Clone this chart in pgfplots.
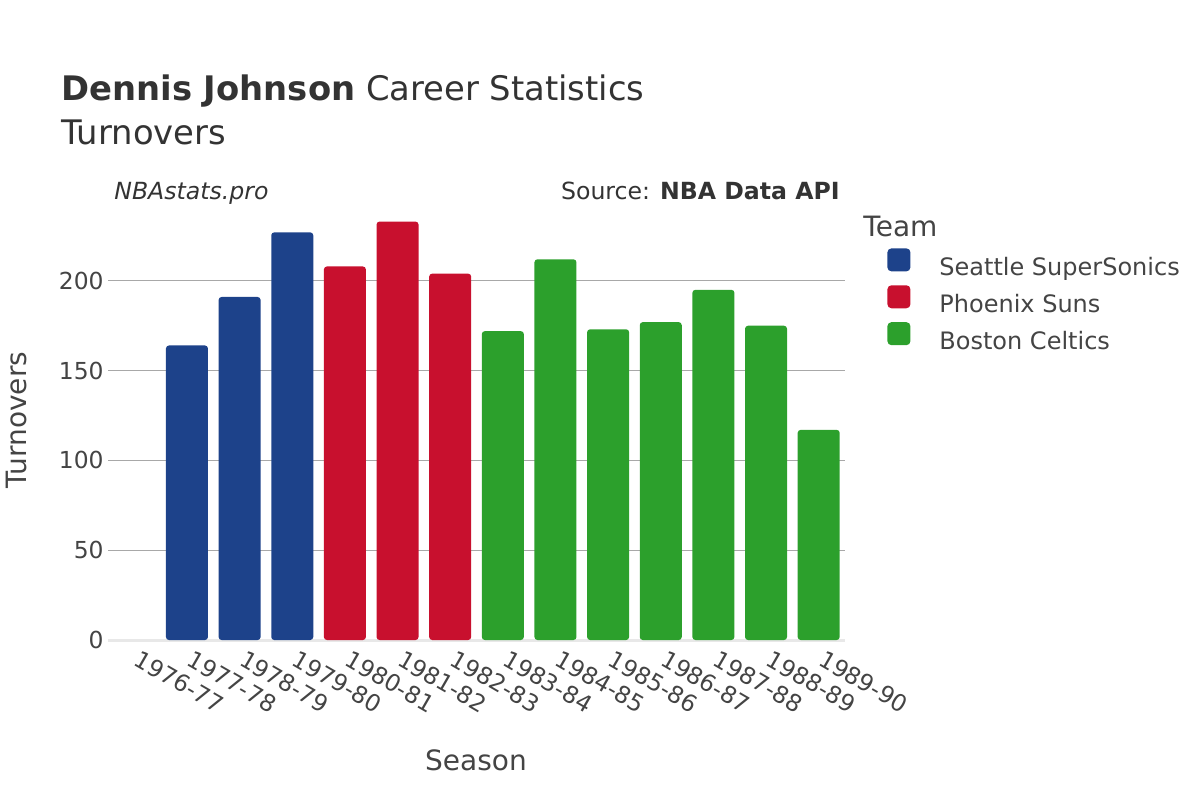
\documentclass[border=0pt]{standalone}
\usepackage{pgfplots}
\pgfplotsset{compat=1.18}
\usepackage{fontspec}
\setmainfont{DejaVu Sans}

\definecolor{sea}{HTML}{1D428A}
\definecolor{phx}{HTML}{C8102E}
\definecolor{bos}{HTML}{2CA02C}
\definecolor{txt}{HTML}{444444}
\definecolor{titletxt}{HTML}{333333}
\definecolor{gridgray}{HTML}{A8A8A8}
\definecolor{zerogray}{HTML}{E8E8E8}

\newcommand{\ticksize}{\fontsize{11.7}{13}\selectfont}
\newcommand{\legsize}{\fontsize{12}{14}\selectfont}
\newcommand{\titsize}{\fontsize{14}{16}\selectfont}

\begin{document}
\begin{tikzpicture}[every node/.append style={inner sep=0pt, text=txt}]
\path[use as bounding box] (0pt,0pt) rectangle (600pt,-400pt);

\begin{axis}[
    at={(54pt,-320pt)}, anchor=south west,
    scale only axis,
    width=368.5pt, height=220pt,
    xmin=-0.5, xmax=13.5,
    ymin=0, ymax=245,
    enlargelimits=false,
    ybar, bar width=21pt,
    axis line style={draw=none},
    major tick length=0pt,
    xtick={0,...,13},
    xticklabels={1976-77,1977-78,1978-79,1979-80,1980-81,1981-82,1982-83,
                 1983-84,1984-85,1985-86,1986-87,1987-88,1988-89,1989-90},
    xticklabel style={font=\ticksize, text=txt, inner sep=0pt,
                      xshift=3.5pt, yshift=-4.5pt, rotate=-30, anchor=north west},
    ytick={50,100,150,200},
    ymajorgrids,
    major grid style={draw=gridgray, line width=0.5pt},
    extra y ticks={0},
    extra y tick style={major grid style={draw=zerogray, line width=1.5pt}},
    yticklabel style={font=\ticksize, text=txt, inner sep=0pt, anchor=east, xshift=-2pt},
    /pgf/number format/assume math mode=true,
    legend style={at={(1.057,0.891)}, anchor=north west,
                  draw=none, fill=none, inner sep=0pt,
                  font=\legsize, row sep=2pt,
                  nodes={inner sep=0pt, text height=9.6pt, text depth=2.9pt, text=txt},
                  /tikz/every odd column/.append style={column sep=14.5pt}},
    legend cell align=left,
]
\addplot[fill=sea, draw=none, bar shift=0pt, rounded corners=1.5pt,
    legend image code/.code={\fill[sea, rounded corners=2pt] (0pt,-1.3pt) rectangle (11.5pt,10.2pt);}]
    coordinates {(1,164) (2,191) (3,227)};
\addlegendentry{Seattle SuperSonics}
\addplot[fill=phx, draw=none, bar shift=0pt, rounded corners=1.5pt,
    legend image code/.code={\fill[phx, rounded corners=2pt] (0pt,-1.3pt) rectangle (11.5pt,10.2pt);}]
    coordinates {(4,208) (5,233) (6,204)};
\addlegendentry{Phoenix Suns}
\addplot[fill=bos, draw=none, bar shift=0pt, rounded corners=1.5pt,
    legend image code/.code={\fill[bos, rounded corners=2pt] (0pt,-1.3pt) rectangle (11.5pt,10.2pt);}]
    coordinates {(7,172) (8,212) (9,173) (10,177) (11,195) (12,175) (13,117)};
\addlegendentry{Boston Celtics}
\end{axis}

% titles and annotations
\node[anchor=base west, text=titletxt, font=\fontsize{16.9}{20}\selectfont] at (30.5pt,-50pt)
    {\textbf{Dennis Johnson} Career Statistics};
\node[anchor=base west, text=titletxt, font=\fontsize{16.9}{20}\selectfont] at (30.5pt,-72pt) {Turnovers};
\node[anchor=base west, text=titletxt, font=\fontsize{11.8}{14}\selectfont\itshape] at (57pt,-99.5pt) {NBAstats.pro};
\node[anchor=base east, text=titletxt, font=\fontsize{11.8}{14}\selectfont] at (420pt,-99.5pt)
    {Source: \textbf{NBA Data API}};
\node[anchor=base west, font=\titsize] at (431.5pt,-118.2pt) {Team};

% axis titles
\node[rotate=90, font=\titsize] at (8pt,-210pt) {Turnovers};
\node[font=\titsize] at (238pt,-380pt) {Season};
\end{tikzpicture}
\end{document}
